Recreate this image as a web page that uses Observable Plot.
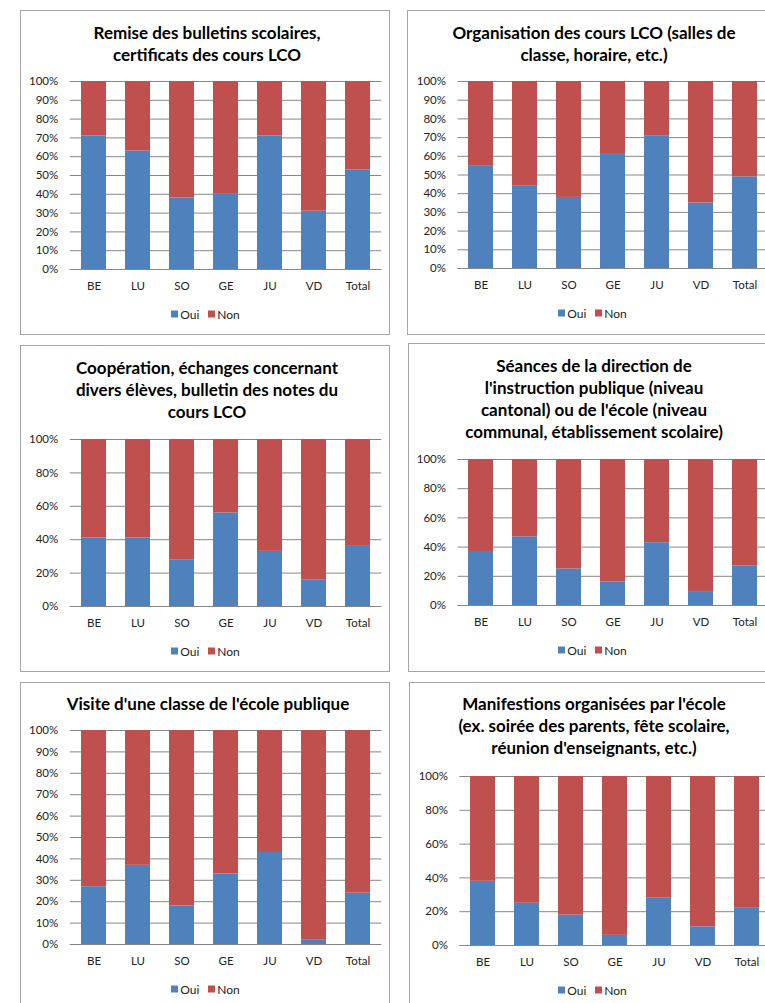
<!DOCTYPE html>
<html>
<head>
<meta charset="utf-8">
<script src="https://cdn.jsdelivr.net/npm/d3@7"></script>
<script src="https://cdn.jsdelivr.net/npm/@observablehq/plot@0.6"></script>
<style>
  html, body { margin: 0; padding: 0; background: #fff; }
  body { width: 765px; height: 1003px; overflow: hidden; position: relative; font-family: Lato, "Open Sans", sans-serif; }
  .panel { position: absolute; border: 1px solid #a6a6a6; box-sizing: border-box; background: #fff; }
  .title { position: absolute; text-align: center; font-weight: 700; font-size: 17px; line-height: 22px; color: #000; white-space: nowrap; }
  .chart { position: absolute; width: 372px; }
  .chart svg { max-width: none !important; }
  .leg { position: absolute; width: 240px; display: flex; justify-content: center; transform: translateY(-50%); }
  .lg, .lg-swatches { margin: 0 !important; font-family: Lato, sans-serif !important; font-size: 12px !important; color: #222 !important; min-height: 0 !important; }
  .lg-swatch { margin-right: 9px !important; }
  .lg-swatch > svg, .lg-swatch svg { margin-right: 2px !important; }
</style>
</head>
<body>
<script>
const categories = ["BE", "LU", "SO", "GE", "JU", "VD", "Total"];
const responses = ["Oui", "Non"];
const colors = ["#4F81BD", "#C0504D"];

const titles1 = ["Remise des bulletins scolaires,", "certificats des cours LCO"];
const titles2 = ["Organisation des cours LCO (salles de", "classe, horaire, etc.)"];
const titles3 = ["Coopération, échanges concernant", "divers élèves, bulletin des notes du", "cours LCO"];
const titles4 = ["Séances de la direction de", "l'instruction publique (niveau", "cantonal) ou de l'école (niveau", "communal, établissement scolaire)"];
const titles5 = ["Visite d'une classe de l'école publique"];
const titles6 = ["Manifestions organisées par l'école", "(ex. soirée des parents, fête scolaire,", "réunion d'enseignants, etc.)"];

const oui1 = [71, 63, 38, 40, 71, 31, 53];
const non1 = [29, 37, 62, 60, 29, 69, 47];
const oui2 = [55, 44, 38, 61, 71, 35, 49];
const non2 = [45, 56, 62, 39, 29, 65, 51];
const oui3 = [41, 41, 28, 56, 33, 16, 36];
const non3 = [59, 59, 72, 44, 67, 84, 64];
const oui4 = [37, 47, 25, 16, 43, 9, 27];
const non4 = [63, 53, 75, 84, 57, 91, 73];
const oui5 = [27, 37, 18, 33, 43, 2, 24];
const non5 = [73, 63, 82, 67, 57, 98, 76];
const oui6 = [38, 25, 18, 6, 28, 11, 22];
const non6 = [62, 75, 82, 94, 72, 89, 78];

const ticks10 = [0, 10, 20, 30, 40, 50, 60, 70, 80, 90, 100];
const ticks20 = [0, 20, 40, 60, 80, 100];

// layout (page coordinates)
const panels = [
  {box: [20, 10, 370, 325], titles: titles1, tcx: 207, tTop: 22, oui: oui1, non: non1, ticks: ticks10,
   svgLeft: 20, pl: 69.75, pr: 381.25, y100: 81, y0: 269.3, lcx: 210},
  {box: [407, 10, 372, 325], titles: titles2, tcx: 594, tTop: 22, oui: oui2, non: non2, ticks: ticks10,
   svgLeft: 407, pl: 457.5, pr: 767.5, y100: 81, y0: 267.7, lcx: 597},
  {box: [20, 345, 370, 327], titles: titles3, tcx: 207, tTop: 357, oui: oui3, non: non3, ticks: ticks20,
   svgLeft: 20, pl: 69.75, pr: 381.25, y100: 439, y0: 605.7, lcx: 210},
  {box: [408, 343, 372, 329], titles: titles4, tcx: 594, tTop: 355, oui: oui4, non: non4, ticks: ticks20,
   svgLeft: 408, pl: 457.5, pr: 767.5, y100: 459, y0: 605.3, lcx: 597},
  {box: [20, 682, 370, 340], titles: titles5, tcx: 208, tTop: 693, oui: oui5, non: non5, ticks: ticks10,
   svgLeft: 20, pl: 69.75, pr: 381.25, y100: 730, y0: 943.7, lcx: 210},
  {box: [409, 682, 372, 340], titles: titles6, tcx: 594, tTop: 693, oui: oui6, non: non6, ticks: ticks20,
   svgLeft: 409, pl: 459.4, pr: 768.5, y100: 776, y0: 944.7, lcx: 597}
];

for (const p of panels) {
  const box = document.createElement("div");
  box.className = "panel";
  Object.assign(box.style, {left: p.box[0] + "px", top: p.box[1] + "px", width: p.box[2] + "px", height: p.box[3] + "px"});
  document.body.appendChild(box);

  const t = document.createElement("div");
  t.className = "title";
  Object.assign(t.style, {left: (p.tcx - 200) + "px", width: "400px", top: p.tTop + "px"});
  t.innerHTML = p.titles.map(s => s.replace(/&/g, "&amp;")).join("<br>");
  document.body.appendChild(t);

  const data = categories.flatMap((c, i) => [
    {cat: c, rep: "Oui", v: p.oui[i]},
    {cat: c, rep: "Non", v: p.non[i]}
  ]);

  const mt = 10, mb = 30;
  const width = 372;
  const height = Math.round(p.y0 - p.y100) + mt + mb;
  const plot = Plot.plot({
    width, height,
    marginLeft: p.pl - p.svgLeft,
    marginRight: p.svgLeft + width - p.pr,
    marginTop: mt,
    marginBottom: mb,
    style: {fontFamily: "Lato, sans-serif", fontSize: "11.5px", color: "#222", background: "transparent", overflow: "visible", maxWidth: "none"},
    x: {domain: categories, paddingInner: 0.44, paddingOuter: 0.22, label: null},
    y: {domain: [0, 100], label: null},
    color: {domain: responses, range: colors},
    marks: [
      Plot.gridY(p.ticks, {stroke: "#868686", strokeOpacity: 1}),
      Plot.barY(data, Plot.stackY({x: "cat", y: "v", fill: "rep"})),
      Plot.ruleY([0], {stroke: "#868686"}),
      Plot.axisY(p.ticks, {tickSize: 0, tickPadding: 12, tickFormat: d => d + "%", label: null}),
      Plot.axisX({tickSize: 0, tickPadding: 12, label: null})
    ]
  });
  const wrap = document.createElement("div");
  wrap.className = "chart";
  Object.assign(wrap.style, {left: p.svgLeft + "px", top: (p.y100 - mt) + "px"});
  wrap.appendChild(plot);
  document.body.appendChild(wrap);

  const leg = document.createElement("div");
  leg.className = "leg";
  Object.assign(leg.style, {left: (p.lcx - 120) + "px", top: (p.y0 + 45) + "px"});
  leg.appendChild(plot.legend("color", {className: "lg", swatchSize: 7}));
  document.body.appendChild(leg);
}
</script>
</body>
</html>
